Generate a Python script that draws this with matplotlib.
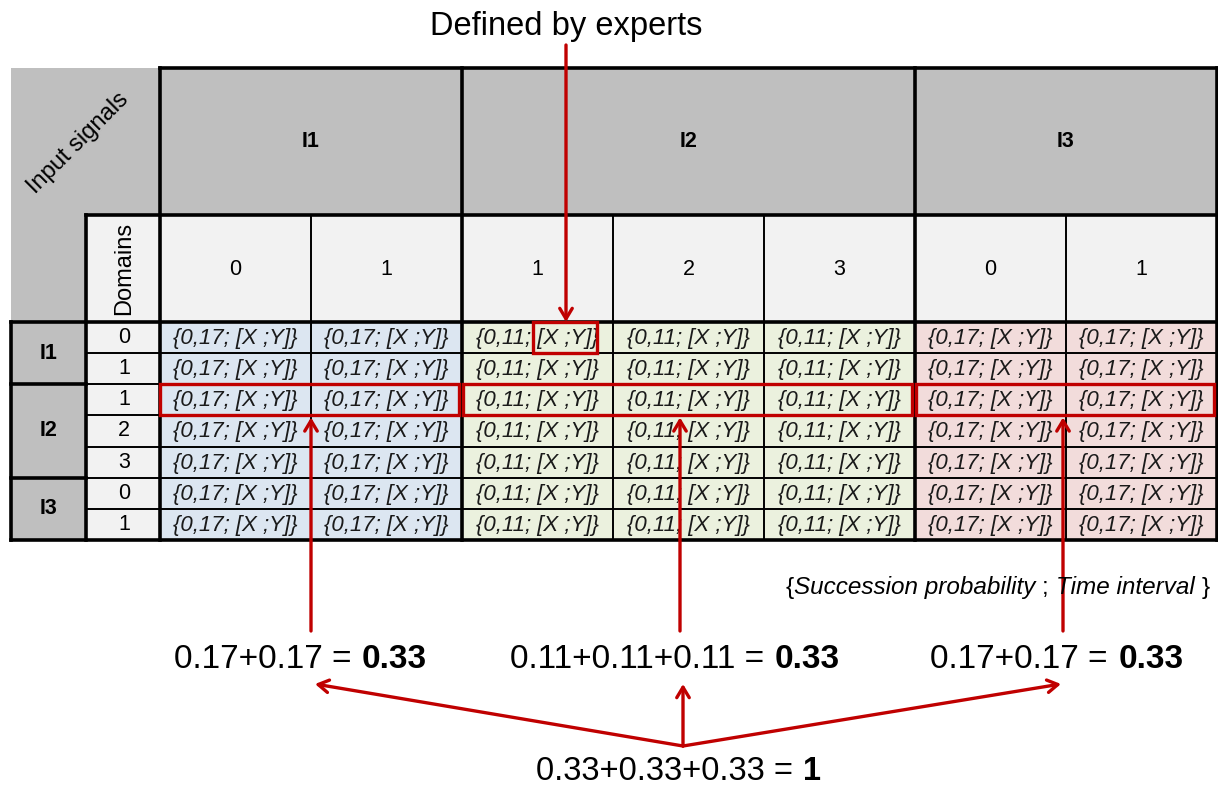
import matplotlib
matplotlib.use("Agg")
import matplotlib.pyplot as plt
from matplotlib.patches import Rectangle

plt.rcParams['font.family'] = ['Liberation Sans', 'DejaVu Sans']

# ---------------- data ----------------
signals = ['I1', 'I2', 'I3']
signal_domains = [[0, 1], [1, 2, 3], [0, 1]]
group_probs = ['0,17', '0,11', '0,17']
cell_interval = '[X ;Y]'
sum_left_parts = ['0.17+0.17 =', '0.11+0.11+0.11 =', '0.17+0.17 =']
sum_bold_parts = ['0.33', '0.33', '0.33']
total_left = '0.33+0.33+0.33 ='
total_bold = '1'
expert_label = 'Defined by experts'
corner_label = 'Input signals'
domain_label = 'Domains'
legend_parts = [('{', 'normal'), ('Succession probability ', 'italic'), ('; ', 'normal'),
                ('Time interval ', 'italic'), ('}', 'normal')]
highlight_row = 2          # row (I2, domain 1) highlighted
expert_cell = (0, 2)       # row, col of the expert-defined cell

# ---------------- styles ----------------
GREY = '#bfbfbf'
LIGHT = '#f2f2f2'
GROUP_COLORS = ['#dce6f1', '#ebf1de', '#f2dcdb']
RED = '#c00000'
THICK = 2.6
THIN = 1.4

fig = plt.figure(figsize=(12.18, 7.87), dpi=100)
ax = fig.add_axes([0, 0, 1, 1])
ax.set_xlim(0, 1218)
ax.set_ylim(787, 0)
ax.axis('off')

# layout
x_left, x_dom, x_c0, cw = 11, 86, 160, 151
y_top, y_h1, y_h2 = 68, 215, 322
n_rows = sum(len(d) for d in signal_domains)
n_cols = n_rows
rh = (540 - y_h2) / n_rows
x_right = x_c0 + n_cols * cw
y_bot = y_h2 + n_rows * rh

col_group = []
for g, d in enumerate(signal_domains):
    col_group += [g] * len(d)
col_domain = [v for d in signal_domains for v in d]

def rect(x0, y0, x1, y1, fc, ec='none', lw=0, z=1):
    ax.add_patch(Rectangle((x0, y0), x1 - x0, y1 - y0, facecolor=fc, edgecolor=ec, lw=lw, zorder=z))

def hline(y, x0, x1, lw, c='black', z=3):
    ax.plot([x0, x1], [y, y], color=c, lw=lw, solid_capstyle='projecting', zorder=z)

def vline(x, y0, y1, lw, c='black', z=3):
    ax.plot([x, x], [y0, y1], color=c, lw=lw, solid_capstyle='projecting', zorder=z)

# backgrounds
rect(x_left, y_top, x_c0, y_bot, GREY)
rect(x_c0, y_top, x_right, y_h1, GREY)
rect(x_dom, y_h1, x_right, y_h2, LIGHT)
rect(x_dom, y_h2, x_c0, y_bot, LIGHT)
for c in range(n_cols):
    rect(x_c0 + c * cw, y_h2, x_c0 + (c + 1) * cw, y_bot, GROUP_COLORS[col_group[c]])

# group boundaries (columns)
starts = [0]
for d in signal_domains:
    starts.append(starts[-1] + len(d))

# lines
hline(y_top, x_c0, x_right, THICK)
hline(y_h1, x_dom, x_right, THICK)
hline(y_h2, x_left, x_right, THICK)
hline(y_bot, x_left, x_right, THICK)
vline(x_right, y_top, y_bot, THICK)
vline(x_left, y_h2, y_bot, THICK)
vline(x_dom, y_h1, y_bot, THICK)
for s in starts[:-1]:
    vline(x_c0 + s * cw, y_top, y_bot, THICK)
for c in range(n_cols):
    if c not in starts:
        vline(x_c0 + c * cw, y_h1, y_bot, THIN)
for r in range(1, n_rows):
    y = y_h2 + r * rh
    if r in starts:
        hline(y, x_left, x_dom, THICK)
    hline(y, x_dom, x_right, THIN)

# header texts
FS = 15.5
ax.text(78, 143, corner_label, rotation=45, ha='center', va='center', fontsize=17, zorder=5)
ax.text((x_dom + x_c0) / 2 + 1, (y_h1 + y_h2) / 2, domain_label, rotation=90,
        ha='center', va='center', fontsize=17, zorder=5)
for g, name in enumerate(signals):
    xc = x_c0 + (starts[g] + starts[g + 1]) / 2 * cw
    ax.text(xc, (y_top + y_h1) / 2, name, ha='center', va='center', fontsize=FS,
            fontweight='bold', zorder=5)
    yc = y_h2 + (starts[g] + starts[g + 1]) / 2 * rh
    ax.text((x_left + x_dom) / 2, yc, name, ha='center', va='center', fontsize=FS,
            fontweight='bold', zorder=5)
for c in range(n_cols):
    ax.text(x_c0 + (c + 0.5) * cw, (y_h1 + y_h2) / 2 + 1, str(col_domain[c]),
            ha='center', va='center', fontsize=FS, zorder=5)
    ax.text((x_dom + x_c0) / 2 + 1, y_h2 + (c + 0.5) * rh, str(col_domain[c]),
            ha='center', va='center', fontsize=FS, zorder=5)

# cell texts
for r in range(n_rows):
    for c in range(n_cols):
        txt = '{' + group_probs[col_group[c]] + '; ' + cell_interval + '}'
        ax.text(x_c0 + (c + 0.5) * cw, y_h2 + (r + 0.5) * rh + 1, txt, ha='center',
                va='center', fontsize=16, fontstyle='italic', color='#1a1a1a', zorder=5)

# red highlight boxes
RLW = 2.4
er, ec = expert_cell
rect(x_c0 + ec * cw + 71, y_h2 + er * rh, x_c0 + ec * cw + 135, y_h2 + (er + 1) * rh,
     'none', RED, RLW, z=6)
yb0 = y_h2 + highlight_row * rh
for g in range(len(signals)):
    x0 = x_c0 + starts[g] * cw + (1 if g > 0 else 0)
    x1 = x_c0 + starts[g + 1] * cw - 3
    rect(x0, yb0, x1, yb0 + rh, 'none', RED, RLW, z=6)

# arrows
AP = dict(arrowstyle='->,head_length=0.75,head_width=0.45', color=RED, lw=2.4,
          shrinkA=0, shrinkB=0)
xe = x_c0 + ec * cw + 104
ax.text(xe, 27, expert_label, ha='center', va='center', fontsize=23.5, zorder=7)
ax.annotate('', xy=(xe, y_h2 + er * rh), xytext=(xe, 45), arrowprops=AP, zorder=7)

up_x = [311, 680, 1063]
eq_split = [362, 775, 1119]
for g in range(len(signals)):
    ax.annotate('', xy=(up_x[g], yb0 + rh + 2), xytext=(up_x[g], 631), arrowprops=AP, zorder=7)
    ax.text(eq_split[g] - 11, 660, sum_left_parts[g], ha='right', va='center', fontsize=24, zorder=7)
    ax.text(eq_split[g], 660, sum_bold_parts[g], ha='left', va='center', fontsize=24,
            fontweight='bold', zorder=7)

hub = (683, 746)
tips = [(315, 684), (683, 684), (1061, 684)]
for t in tips:
    ax.annotate('', xy=t, xytext=hub, arrowprops=AP, zorder=7)
ax.text(793, 772, total_left, ha='right', va='center', fontsize=23.5, zorder=7)
ax.text(803, 772, total_bold, ha='left', va='center', fontsize=23.5, fontweight='bold', zorder=7)

# legend line
prev = ax.text(786, 599, legend_parts[0][0], ha='left', va='bottom', fontsize=17.5,
               fontstyle=legend_parts[0][1], zorder=7)
for txt, sty in legend_parts[1:]:
    prev = ax.annotate(txt, xy=(1, 0), xycoords=prev, ha='left', va='bottom', fontsize=17.5,
                       fontstyle=sty, zorder=7)

fig.savefig('out.png', dpi=100)
